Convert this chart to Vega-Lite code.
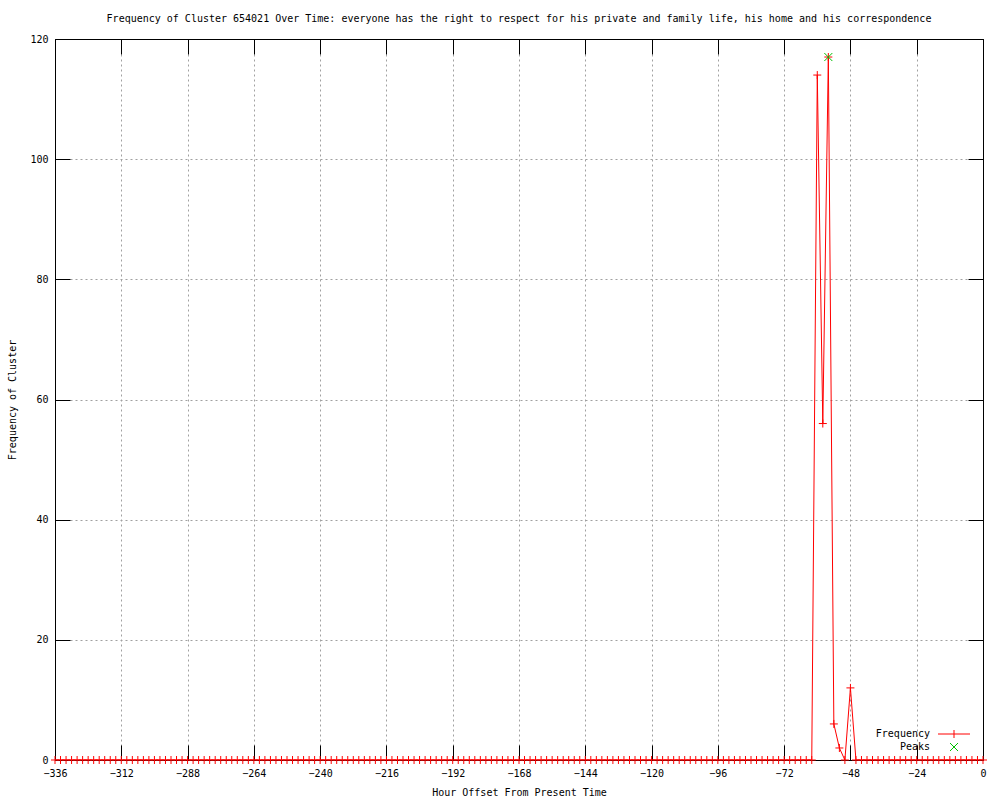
{
  "$schema": "https://vega.github.io/schema/vega-lite/v6.json",
  "width": 928,
  "height": 721,
  "autosize": {"type": "none"},
  "padding": {"left": 55, "top": 39, "right": 17, "bottom": 40},
  "background": "white",
  "title": {
    "text": "Frequency of Cluster 654021 Over Time: everyone has the right to respect for his private and family life, his home and his correspondence",
    "font": "DejaVu Sans Mono",
    "fontSize": 10,
    "fontWeight": "normal",
    "color": "black",
    "anchor": "middle",
    "offset": 10
  },
  "config": {
    "view": {"stroke": "black", "strokeWidth": 1},
    "axis": {
      "labelFont": "DejaVu Sans Mono",
      "labelFontSize": 10,
      "labelColor": "black",
      "titleFont": "DejaVu Sans Mono",
      "titleFontSize": 10,
      "titleFontWeight": "normal",
      "titleColor": "black",
      "tickColor": "black",
      "tickSize": -15,
      "domainColor": "black",
      "gridColor": "#a0a0a0",
      "gridDash": [2, 3],
      "gridOpacity": 1,
      "labelFlush": false,
      "labelOverlap": false
    }
  },
  "datasets": {
    "freq": [
      {"h":-336,"f":0},{"h":-334,"f":0},{"h":-332,"f":0},{"h":-330,"f":0},{"h":-328,"f":0},{"h":-326,"f":0},{"h":-324,"f":0},{"h":-322,"f":0},
      {"h":-320,"f":0},{"h":-318,"f":0},{"h":-316,"f":0},{"h":-314,"f":0},{"h":-312,"f":0},{"h":-310,"f":0},{"h":-308,"f":0},{"h":-306,"f":0},
      {"h":-304,"f":0},{"h":-302,"f":0},{"h":-300,"f":0},{"h":-298,"f":0},{"h":-296,"f":0},{"h":-294,"f":0},{"h":-292,"f":0},{"h":-290,"f":0},
      {"h":-288,"f":0},{"h":-286,"f":0},{"h":-284,"f":0},{"h":-282,"f":0},{"h":-280,"f":0},{"h":-278,"f":0},{"h":-276,"f":0},{"h":-274,"f":0},
      {"h":-272,"f":0},{"h":-270,"f":0},{"h":-268,"f":0},{"h":-266,"f":0},{"h":-264,"f":0},{"h":-262,"f":0},{"h":-260,"f":0},{"h":-258,"f":0},
      {"h":-256,"f":0},{"h":-254,"f":0},{"h":-252,"f":0},{"h":-250,"f":0},{"h":-248,"f":0},{"h":-246,"f":0},{"h":-244,"f":0},{"h":-242,"f":0},
      {"h":-240,"f":0},{"h":-238,"f":0},{"h":-236,"f":0},{"h":-234,"f":0},{"h":-232,"f":0},{"h":-230,"f":0},{"h":-228,"f":0},{"h":-226,"f":0},
      {"h":-224,"f":0},{"h":-222,"f":0},{"h":-220,"f":0},{"h":-218,"f":0},{"h":-216,"f":0},{"h":-214,"f":0},{"h":-212,"f":0},{"h":-210,"f":0},
      {"h":-208,"f":0},{"h":-206,"f":0},{"h":-204,"f":0},{"h":-202,"f":0},{"h":-200,"f":0},{"h":-198,"f":0},{"h":-196,"f":0},{"h":-194,"f":0},
      {"h":-192,"f":0},{"h":-190,"f":0},{"h":-188,"f":0},{"h":-186,"f":0},{"h":-184,"f":0},{"h":-182,"f":0},{"h":-180,"f":0},{"h":-178,"f":0},
      {"h":-176,"f":0},{"h":-174,"f":0},{"h":-172,"f":0},{"h":-170,"f":0},{"h":-168,"f":0},{"h":-166,"f":0},{"h":-164,"f":0},{"h":-162,"f":0},
      {"h":-160,"f":0},{"h":-158,"f":0},{"h":-156,"f":0},{"h":-154,"f":0},{"h":-152,"f":0},{"h":-150,"f":0},{"h":-148,"f":0},{"h":-146,"f":0},
      {"h":-144,"f":0},{"h":-142,"f":0},{"h":-140,"f":0},{"h":-138,"f":0},{"h":-136,"f":0},{"h":-134,"f":0},{"h":-132,"f":0},{"h":-130,"f":0},
      {"h":-128,"f":0},{"h":-126,"f":0},{"h":-124,"f":0},{"h":-122,"f":0},{"h":-120,"f":0},{"h":-118,"f":0},{"h":-116,"f":0},{"h":-114,"f":0},
      {"h":-112,"f":0},{"h":-110,"f":0},{"h":-108,"f":0},{"h":-106,"f":0},{"h":-104,"f":0},{"h":-102,"f":0},{"h":-100,"f":0},{"h":-98,"f":0},
      {"h":-96,"f":0},{"h":-94,"f":0},{"h":-92,"f":0},{"h":-90,"f":0},{"h":-88,"f":0},{"h":-86,"f":0},{"h":-84,"f":0},{"h":-82,"f":0},
      {"h":-80,"f":0},{"h":-78,"f":0},{"h":-76,"f":0},{"h":-74,"f":0},{"h":-72,"f":0},{"h":-70,"f":0},{"h":-68,"f":0},{"h":-66,"f":0},
      {"h":-64,"f":0},{"h":-62,"f":0},{"h":-60,"f":114},{"h":-58,"f":56},{"h":-56,"f":117},{"h":-54,"f":6},{"h":-52,"f":2},{"h":-50,"f":0},
      {"h":-48,"f":12},{"h":-46,"f":0},{"h":-44,"f":0},{"h":-42,"f":0},{"h":-40,"f":0},{"h":-38,"f":0},{"h":-36,"f":0},{"h":-34,"f":0},
      {"h":-32,"f":0},{"h":-30,"f":0},{"h":-28,"f":0},{"h":-26,"f":0},{"h":-24,"f":0},{"h":-22,"f":0},{"h":-20,"f":0},{"h":-18,"f":0},
      {"h":-16,"f":0},{"h":-14,"f":0},{"h":-12,"f":0},{"h":-10,"f":0},{"h":-8,"f":0},{"h":-6,"f":0},{"h":-4,"f":0},{"h":-2,"f":0},
      {"h":0,"f":0}
    ],
    "peaks": [{"h":-56,"f":117}],
    "legend": [{"h":-56,"f":117,"s":"Frequency"},{"h":-56,"f":117,"s":"Peaks"}]
  },
  "resolve": {"axis": {"x": "independent", "y": "independent"}},
  "layer": [
    {
      "data": {"name": "freq"},
      "mark": {"type": "line", "color": "#ff0000", "strokeWidth": 1, "clip": true},
      "encoding": {
        "x": {
          "field": "h", "type": "quantitative",
          "scale": {"domain": [-336, 0], "nice": false, "zero": false},
          "axis": {
            "orient": "bottom",
            "values": [-336, -312, -288, -264, -240, -216, -192, -168, -144, -120, -96, -72, -48, -24, 0],
            "title": "Hour Offset From Present Time",
            "labelPadding": 23,
            "titlePadding": 9,
            "grid": true
          }
        },
        "y": {
          "field": "f", "type": "quantitative",
          "scale": {"domain": [0, 120], "nice": false},
          "axis": {
            "orient": "left",
            "values": [0, 20, 40, 60, 80, 100, 120],
            "title": "Frequency of Cluster",
            "labelPadding": 22,
            "titlePadding": 12,
            "grid": true
          }
        }
      }
    },
    {
      "data": {"name": "freq"},
      "mark": {"type": "point", "shape": "M-1,0L1,0M0,-1L0,1", "filled": false, "color": "#ff0000", "strokeWidth": 1, "size": 64, "opacity": 1},
      "encoding": {
        "x": {
          "field": "h", "type": "quantitative",
          "axis": {"orient": "top", "values": [-336, -312, -288, -264, -240, -216, -192, -168, -144, -120, -96, -72, -48, -24, 0], "labels": false, "title": null, "grid": false}
        },
        "y": {
          "field": "f", "type": "quantitative",
          "axis": {"orient": "right", "values": [0, 20, 40, 60, 80, 100, 120], "labels": false, "title": null, "grid": false}
        }
      }
    },
    {
      "data": {"name": "peaks"},
      "mark": {"type": "point", "shape": "M-1,-1L1,1M-1,1L1,-1", "filled": false, "color": "#00c000", "strokeWidth": 1, "size": 64, "opacity": 1},
      "encoding": {
        "x": {"field": "h", "type": "quantitative", "axis": null},
        "y": {"field": "f", "type": "quantitative", "axis": null}
      }
    },
    {
      "data": {"name": "legend"},
      "mark": {"type": "point", "filled": false, "strokeWidth": 1, "size": 64, "opacity": 0},
      "encoding": {
        "x": {"field": "h", "type": "quantitative", "axis": null},
        "y": {"field": "f", "type": "quantitative", "axis": null},
        "color": {
          "field": "s", "type": "nominal",
          "scale": {"domain": ["Frequency", "Peaks"], "range": ["#ff0000", "#00c000"]},
          "legend": {
            "title": null,
            "orient": "none",
            "legendX": 894,
            "legendY": 690,
            "labelAlign": "right",
            "labelOffset": -29,
            "labelFont": "DejaVu Sans Mono",
            "labelFontSize": 10,
            "labelColor": "black",
            "symbolOpacity": 1,
            "symbolStrokeWidth": 1,
            "symbolSize": 64,
            "rowPadding": 1,
            "padding": 0
          }
        },
        "shape": {
          "field": "s", "type": "nominal",
          "scale": {"domain": ["Frequency", "Peaks"], "range": ["M-4,0L4,0M0,-1L0,1", "M-1,-1L1,1M-1,1L1,-1"]}
        }
      }
    }
  ]
}
